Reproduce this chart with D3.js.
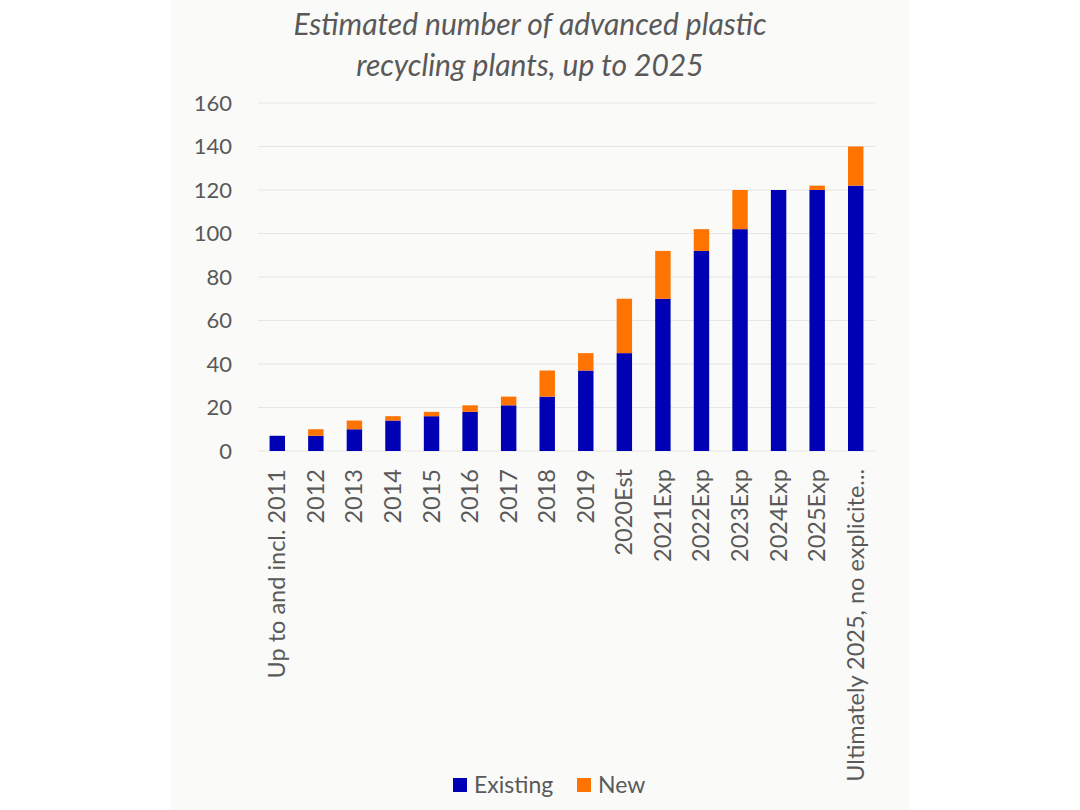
<!DOCTYPE html>
<html>
<head>
<meta charset="utf-8">
<script src="https://cdn.jsdelivr.net/npm/d3@7"></script>
<style>
  body { margin: 0; background: #ffffff; }
  svg text { font-family: Lato, "Open Sans", sans-serif; fill: #595959; }
</style>
</head>
<body>
<div class="canvas"></div>
<script>
// chart data
const categories = ['Up to and incl. 2011', '2012', '2013', '2014', '2015', '2016', '2017', '2018', '2019',
  '2020Est', '2021Exp', '2022Exp', '2023Exp', '2024Exp', '2025Exp', 'Ultimately 2025, no explicite...'];
const existing = [7, 7, 10, 14, 16, 18, 21, 25, 37, 45, 70, 92, 102, 120, 120, 122];
const newPlants = [0, 3, 4, 2, 2, 3, 4, 12, 8, 25, 22, 10, 18, 0, 2, 18];
const yTicks = [0, 20, 40, 60, 80, 100, 120, 140, 160];
const seriesNames = ['Existing', 'New'];

const COLORS = {Existing: '#0000b4', New: '#ff7300'};

const svg = d3.select('.canvas')
  .append('svg')
    .attr('width', 1080)
    .attr('height', 810);

// chart area panel
svg.append('rect')
  .attr('x', 170).attr('y', 0)
  .attr('width', 740).attr('height', 810)
  .attr('fill', '#fafaf8');

const margin = {top: 103, left: 258, right: 205, bottom: 359};
const graphWidth = 1080 - margin.left - margin.right;
const graphHeight = 810 - margin.top - margin.bottom;

const graph = svg.append('g')
  .attr('transform', `translate(${margin.left},${margin.top})`);

const x = d3.scaleBand()
  .domain(categories)
  .range([0, graphWidth])
  .paddingInner(0.6)
  .paddingOuter(0.3);

const y = d3.scaleLinear()
  .domain([0, 160])
  .range([graphHeight, 0]);

// gridlines
graph.selectAll('line.grid')
  .data(yTicks)
  .enter()
  .append('line')
    .attr('class', 'grid')
    .attr('x1', 0).attr('x2', graphWidth)
    .attr('y1', d => y(d)).attr('y2', d => y(d))
    .attr('stroke', '#e6e6e6')
    .attr('stroke-width', 1.2);

// y axis labels
const yAxis = d3.axisLeft(y).tickValues(yTicks).tickSize(0).tickPadding(26);
graph.append('g')
  .call(yAxis)
  .call(g => g.select('.domain').remove())
  .selectAll('text')
    .attr('font-size', 22)
    .attr('fill', '#595959');

// stacked bars
const rows = categories.map((c, i) => ({cat: c, Existing: existing[i], New: newPlants[i]}));
const stacked = d3.stack().keys(seriesNames)(rows);

graph.selectAll('g.series')
  .data(stacked)
  .enter()
  .append('g')
    .attr('class', 'series')
    .attr('fill', d => COLORS[d.key])
  .selectAll('rect')
  .data(d => d)
  .enter()
  .append('rect')
    .attr('x', d => x(d.data.cat))
    .attr('y', d => y(d[1]))
    .attr('width', x.bandwidth())
    .attr('height', d => y(d[0]) - y(d[1]));

// x axis labels, rotated
const xAxis = d3.axisBottom(x).tickSize(0).tickPadding(0);
graph.append('g')
  .attr('transform', `translate(0,${graphHeight})`)
  .call(xAxis)
  .call(g => g.select('.domain').remove())
  .selectAll('text')
    .attr('font-size', 23.5)
    .attr('fill', '#595959')
    .attr('text-anchor', 'end')
    .attr('dy', null)
    .attr('y', 0)
    .attr('transform', 'translate(8,18) rotate(-90)');

// title
svg.append('text')
  .attr('x', 530).attr('y', 35)
  .attr('text-anchor', 'middle')
  .attr('font-size', 30)
  .attr('font-style', 'italic')
  .text('Estimated number of advanced plastic');
svg.append('text')
  .attr('x', 530).attr('y', 76)
  .attr('text-anchor', 'middle')
  .attr('font-size', 30)
  .attr('font-style', 'italic')
  .text('recycling plants, up to 2025');

// legend
const legend = svg.append('g')
  .attr('transform', 'translate(453,778)');
const legendX = [0, 124];
seriesNames.forEach((s, i) => {
  const item = legend.append('g').attr('transform', `translate(${legendX[i]},0)`);
  item.append('rect')
    .attr('width', 14).attr('height', 14)
    .attr('fill', COLORS[s]);
  item.append('text')
    .attr('x', 21).attr('y', 15)
    .attr('font-size', 23)
    .text(s);
});
</script>
</body>
</html>
